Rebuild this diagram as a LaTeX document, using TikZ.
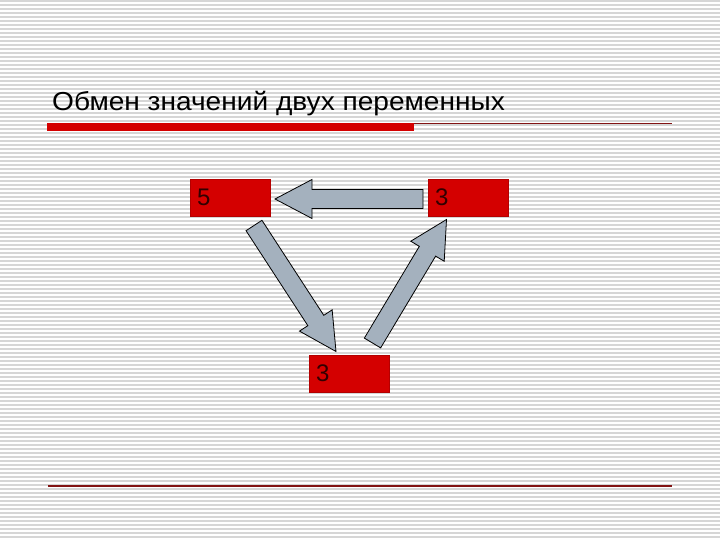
\documentclass[tikz,border=0pt]{standalone}
\usepackage{fontspec}
\setmainfont{Liberation Sans}
\usetikzlibrary{calc}
\definecolor{slidered}{RGB}{212,0,0}
\definecolor{linered}{RGB}{130,20,20}
\definecolor{arrowgray}{RGB}{164,177,190}
\definecolor{stripegray}{RGB}{214,214,214}
\definecolor{digitdark}{RGB}{50,0,0}
\newcommand{\blockarrow}[2]{%
  \coordinate (hb) at ($(#2)!37pt!(#1)$);
  \draw [blockarr] ($(#1)!9.5pt!90:(#2)$) -- ($(hb)!9.5pt!90:(#2)$) -- ($(hb)!19.5pt!90:(#2)$) -- (#2)
    -- ($(hb)!19.5pt!-90:(#2)$) -- ($(hb)!9.5pt!-90:(#2)$) -- ($(#1)!9.5pt!-90:(#2)$) -- cycle;
}
\begin{document}
\begin{tikzpicture}[x=1pt,y=-1pt]
\tikzstyle{stripe}=[stripegray,line width=1.4pt]
\tikzstyle{valbox}=[fill=slidered,draw=slidered!85!black,line width=0.6pt,outer sep=0pt,minimum height=37pt,text width=66pt,inner xsep=7pt,align=left,text=digitdark,font=\fontsize{24}{24}\selectfont]
\tikzstyle{blockarr}=[fill=arrowgray,draw=black,line width=0.8pt,line join=miter]

\useasboundingbox (0,0) rectangle (720,540);
\fill [white] (0,0) rectangle (720,540);
\foreach \y in {0,4,...,536} \draw [stripe] (0,\y+1) -- (720,\y+1);

\node (title) [anchor=base west,inner sep=0pt,font=\fontsize{26}{26}\selectfont] at (52,111) {\scalebox{1.08}[1]{Обмен значений двух переменных}};
\fill [slidered] (47,123) rectangle (414,131);
\draw [linered,line width=0.9pt] (414,123.5) -- (672,123.5);
\draw [linered,line width=1.2pt] (48,486) -- (672,486);

\node (box5) [valbox] at (230,197.5) {5};
\node (boxA) [valbox] at (468,197.5) {3};
\node (boxB) [valbox] at (349,373.5) {3};

\coordinate (leftTail) at ($(boxA.west)+(-5,1.5)$);
\coordinate (leftTip) at ($(box5.east)+(5,1.5)$);
\coordinate (downTail) at (254,225.5);
\coordinate (downTip) at (336,351.5);
\coordinate (upTail) at (372.5,343);
\coordinate (upTip) at (446.5,219.5);

\blockarrow{leftTail}{leftTip}
\blockarrow{downTail}{downTip}
\blockarrow{upTail}{upTip}
\end{tikzpicture}
\end{document}
